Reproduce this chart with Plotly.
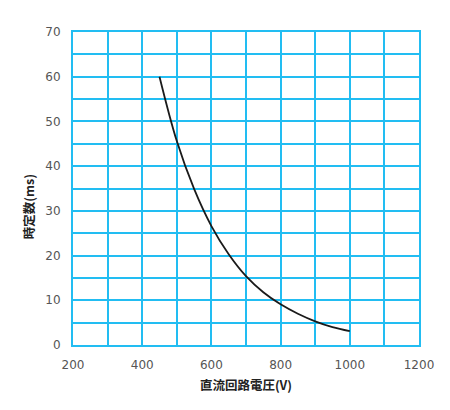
import plotly.graph_objects as go

# curve: DC circuit voltage (V) vs time constant (ms)
voltage = [450, 500, 550, 600, 650, 700, 750, 800, 850, 900, 950, 1000]
time_const = [60, 45.6, 34.9, 26.6, 20.3, 15.4, 11.8, 9.1, 7.0, 5.3, 4.0, 3.1]

x_ticks = [200, 400, 600, 800, 1000, 1200]
y_ticks = [0, 10, 20, 30, 40, 50, 60, 70]

grid_blue = "#22BDF2"
label_font = dict(family="DejaVu Sans, Verdana, sans-serif", size=12, color="#555555")
title_font = dict(family="Noto Sans CJK JP", size=12.5, color="#222222")

fig = go.Figure(go.Scatter(
    x=voltage, y=time_const, mode="lines",
    line=dict(color="#1a1a1a", width=1.8, shape="spline", smoothing=1.0),
    showlegend=False, hoverinfo="skip"))

fig.update_xaxes(
    range=[200, 1200], tickvals=x_ticks,
    showgrid=True, gridcolor=grid_blue, gridwidth=2,
    minor=dict(dtick=100, showgrid=True, gridcolor=grid_blue, gridwidth=2),
    showline=True, linecolor=grid_blue, linewidth=2, mirror=True,
    zeroline=False, tickfont=label_font, ticklabelstandoff=8,
    title=dict(text="<b>直流回路電圧(V)</b>", font=title_font, standoff=10))
fig.update_yaxes(
    range=[0, 70], tickvals=y_ticks,
    showgrid=True, gridcolor=grid_blue, gridwidth=2,
    minor=dict(dtick=5, showgrid=True, gridcolor=grid_blue, gridwidth=2),
    showline=True, linecolor=grid_blue, linewidth=2, mirror=True,
    zeroline=False, tickfont=label_font, ticklabelstandoff=8)

fig.add_annotation(
    text="<b>時定数(ms)</b>", textangle=-90, font=title_font,
    xref="paper", yref="paper", x=-0.13, y=0.44, showarrow=False,
    xanchor="center", yanchor="middle")

fig.update_layout(
    width=450, height=410,
    margin=dict(l=65, r=39, t=24, b=73),
    plot_bgcolor="white", paper_bgcolor="white")

fig.write_html("out.html")
